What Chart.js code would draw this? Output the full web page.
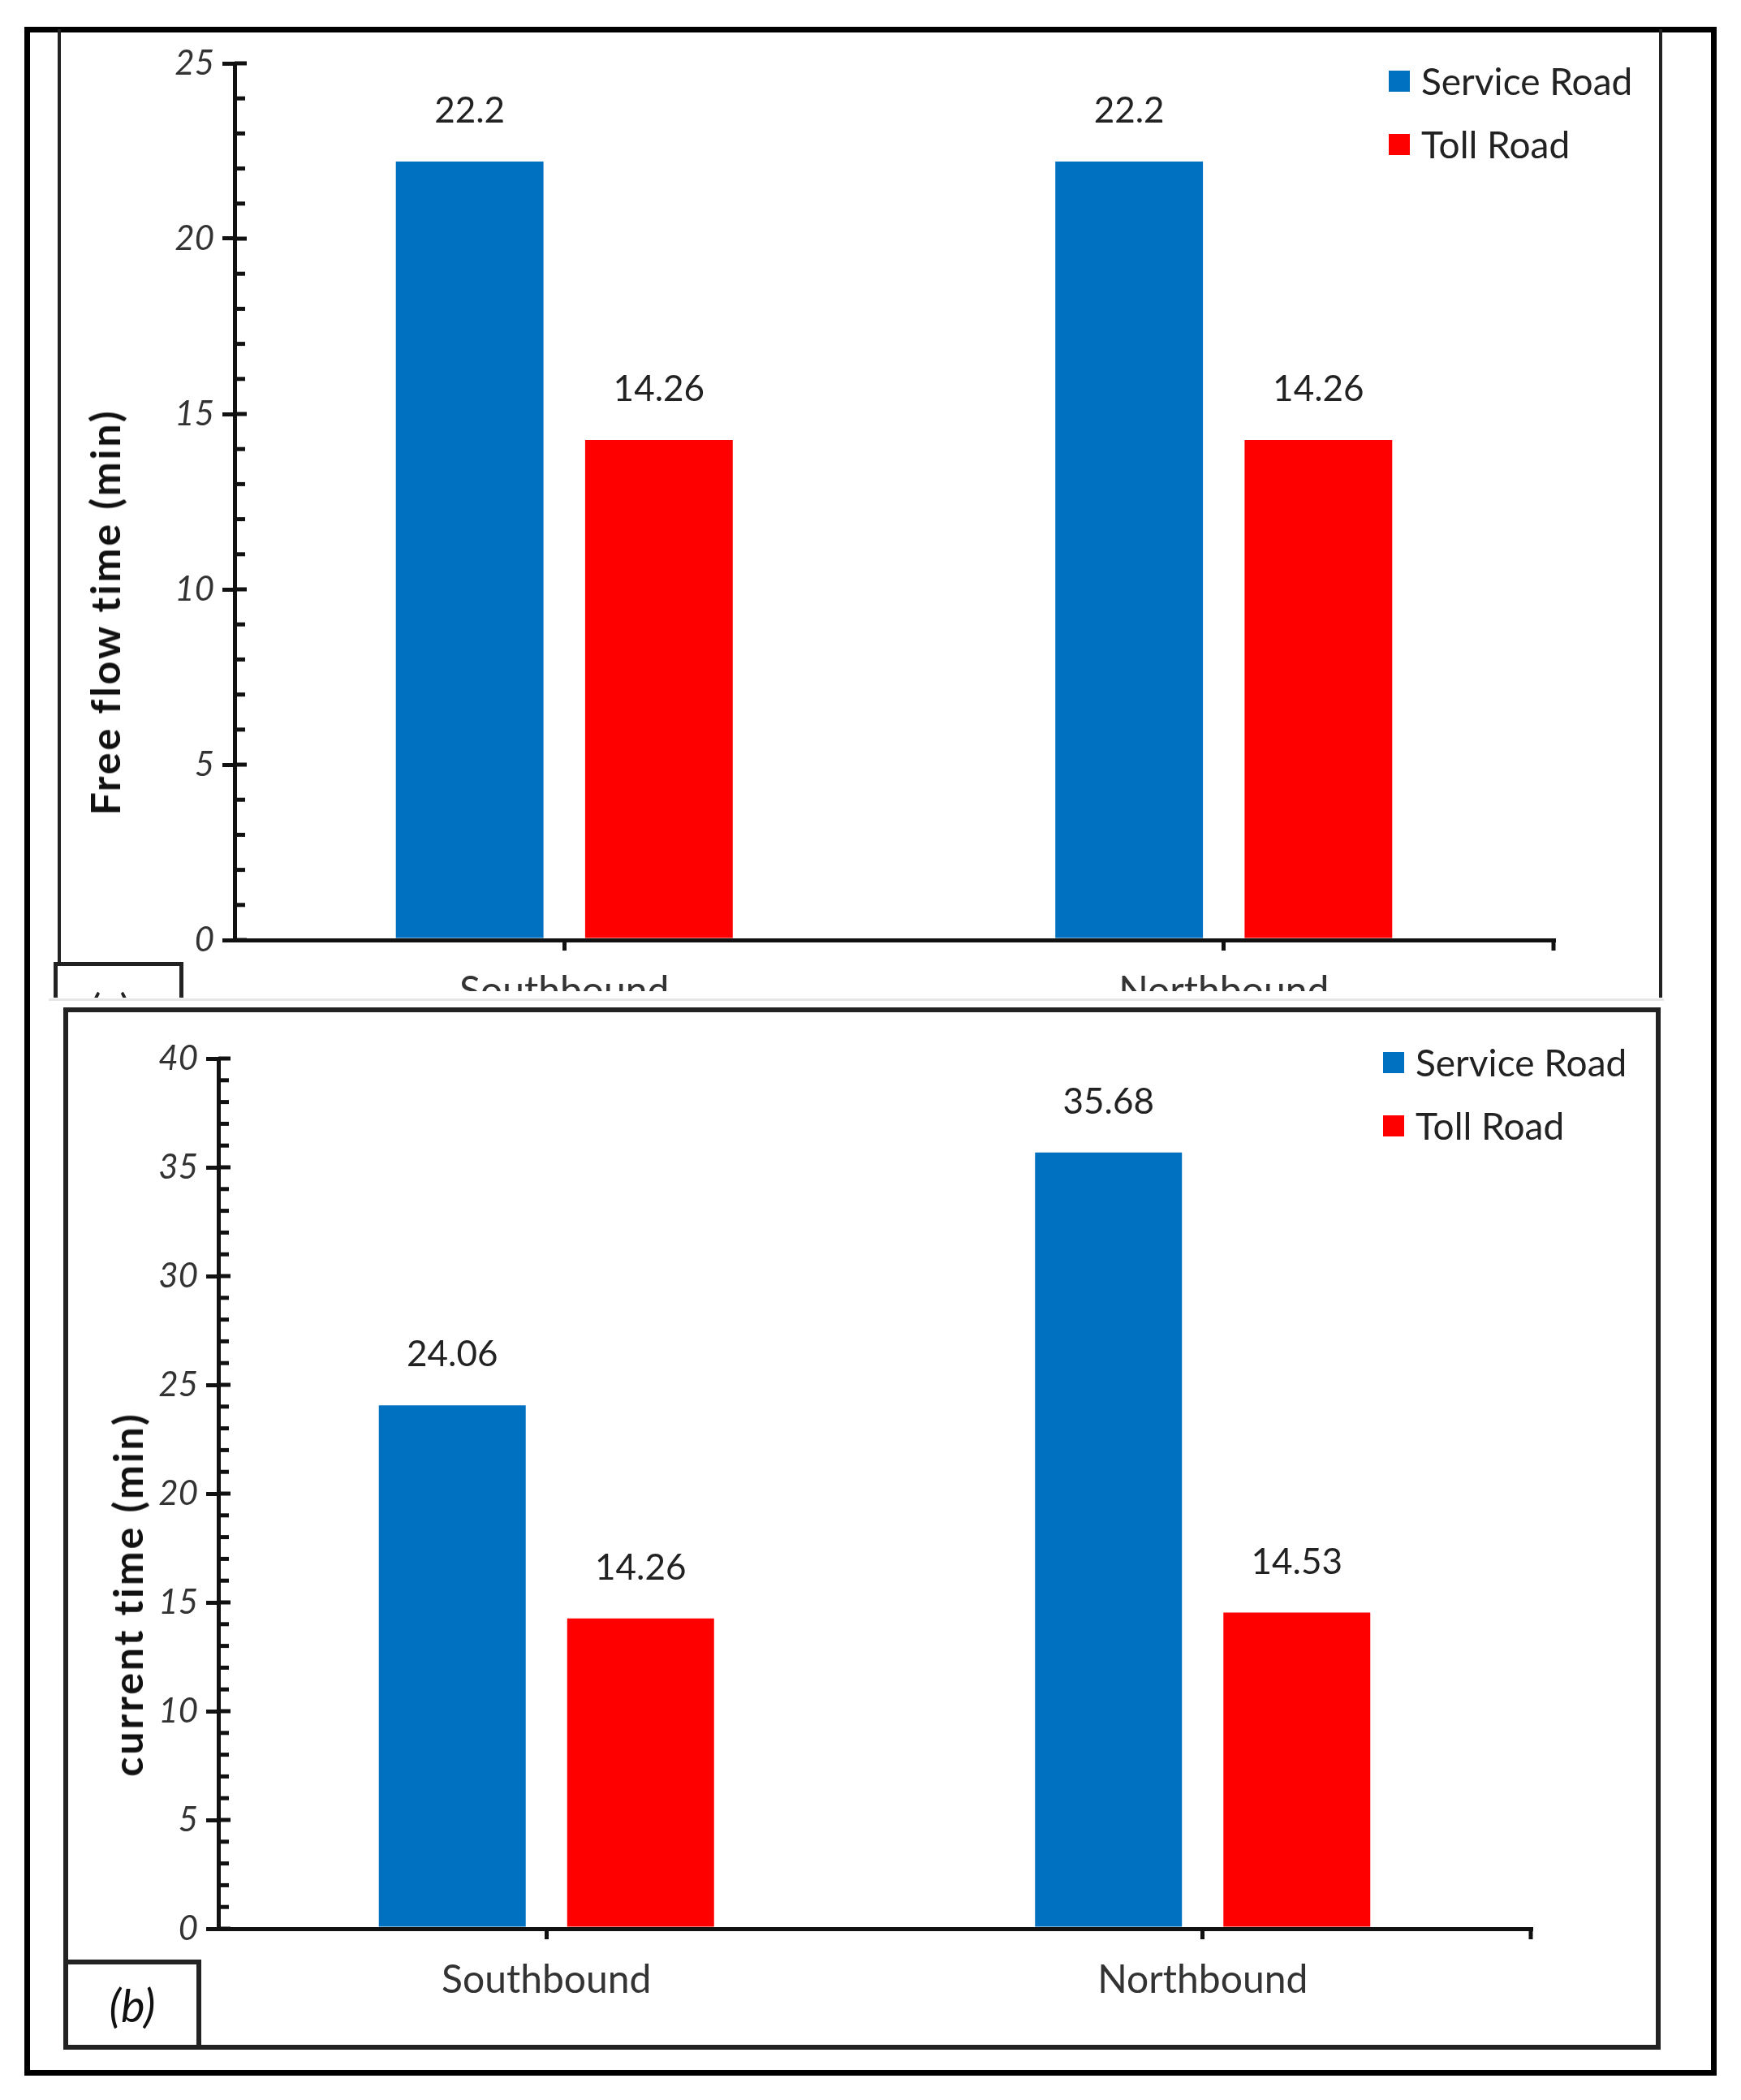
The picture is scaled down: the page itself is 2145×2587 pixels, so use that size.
<!DOCTYPE html>
<html>
<head>
<meta charset="utf-8">
<script src="https://cdn.jsdelivr.net/npm/chart.js@4.4.1/dist/chart.umd.min.js"></script>
<style>
  body { margin: 0; background: #fff; }
  #page { position: relative; width: 2145px; height: 2587px; overflow: hidden; font-family: 'Comic Sans MS', 'Segoe Print', Lato, sans-serif; }
  .abs { position: absolute; }
  .ytitle { position: absolute; transform: translate(-50%, -50%) rotate(-90deg); white-space: nowrap; font-weight: bold; font-size: 50px; color: #111; letter-spacing: 3px; }
  .legend-row { position: absolute; display: flex; align-items: center; font-size: 46px; color: #222; white-space: nowrap; }
  .legend-row span.sw { display: inline-block; width: 26px; height: 26px; margin-right: 14px; }
</style>
</head>
<body>
<div id="page">
  <div class="abs" style="left:30px;top:33px;width:2085px;height:2524px;border:7px solid #000;box-sizing:border-box;"></div>
  <div class="abs" style="left:71px;top:36px;width:4px;height:1193px;background:#222;"></div>
  <div class="abs" style="left:2044px;top:36px;width:4px;height:1193px;background:#222;"></div>

  <canvas id="topChart" class="abs" style="left:80px;top:36px;"></canvas>
  <div class="ytitle" style="left:129px;top:754px;">Free flow time (min)</div>
  <div id="topLegend"></div>

  <div class="abs" style="left:66px;top:1185px;width:160px;height:44px;border:5px solid #222;border-bottom:none;box-sizing:border-box;overflow:hidden;background:#fff;">
    <div style="position:absolute;left:40px;top:22px;font-size:50px;color:#222;">(a)</div>
  </div>
  <div class="abs" style="left:60px;top:1230px;width:1990px;height:3px;background:#e6e6e6;"></div>

  <div class="abs" style="left:78px;top:1241px;width:1968px;height:1284px;border:6px solid #222;box-sizing:border-box;"></div>
  <canvas id="bottomChart" class="abs" style="left:84px;top:1247px;"></canvas>
  <div class="ytitle" style="left:157px;top:1964px;">current time (min)</div>
  <div id="bottomLegend"></div>

  <div class="abs" style="left:78px;top:2414px;width:170px;height:111px;border:6px solid #222;box-sizing:border-box;background:#fff;display:flex;align-items:center;justify-content:center;font-size:56px;font-style:italic;color:#111;">(b)</div>
</div>

<script>
const categories = ["Southbound", "Northbound"];
const seriesNames = ["Service Road", "Toll Road"];
const seriesColors = ["#0070C0", "#FF0000"];

const freeFlowService = [22.2, 22.2];
const freeFlowToll = [14.26, 14.26];
const freeFlowMax = 25;

const currentService = [24.06, 35.68];
const currentToll = [14.26, 14.53];
const currentMax = 40;

const FONT = "'Comic Sans MS', 'Segoe Print', Lato, sans-serif";

// minor ticks on the inside of the y axis, end tick on x axis, value labels
const axisMarks = {
  id: "axisMarks",
  afterDraw(chart) {
    const { ctx, chartArea } = chart;
    const x = chart.scales.x;
    const y = chart.scales.y;
    ctx.save();
    ctx.strokeStyle = "#111";
    ctx.lineWidth = 5;
    for (let v = y.min; v <= y.max; v += 1) {
      const py = y.getPixelForValue(v);
      ctx.beginPath();
      ctx.moveTo(chartArea.left, py);
      ctx.lineTo(chartArea.left + (v % 5 === 0 ? 15 : 13), py);
      ctx.stroke();
    }
    ctx.beginPath();
    ctx.moveTo(x.right, chartArea.bottom);
    ctx.lineTo(x.right, chartArea.bottom + 13);
    ctx.stroke();

    ctx.fillStyle = "#222";
    ctx.font = "44px " + FONT;
    ctx.textAlign = "center";
    ctx.textBaseline = "middle";
    chart.data.datasets.forEach((ds, i) => {
      chart.getDatasetMeta(i).data.forEach((bar, j) => {
        ctx.fillText(String(ds.data[j]), bar.x, bar.y - 62);
      });
    });
    ctx.restore();
  },
};

function renderLegend(el, left, top) {
  seriesNames.forEach((name, i) => {
    const row = document.createElement("div");
    row.className = "legend-row";
    row.style.left = left + "px";
    row.style.top = (top + i * 78) + "px";
    row.innerHTML = `<span class="sw" style="background:${seriesColors[i]}"></span>${name}`;
    el.appendChild(row);
  });
}

function makeChart(id, cfg) {
  const canvas = document.getElementById(id);
  canvas.width = cfg.width;
  canvas.height = cfg.height;
  return new Chart(canvas.getContext("2d"), {
    type: "bar",
    data: {
      labels: categories,
      datasets: cfg.series.map((data, i) => ({
        label: seriesNames[i],
        data,
        backgroundColor: seriesColors[i],
        borderWidth: 0,
        categoryPercentage: 0.574,
        barPercentage: 0.78,
      })),
    },
    options: {
      responsive: false,
      animation: false,
      devicePixelRatio: 1,
      layout: { padding: { top: cfg.padTop, right: cfg.padRight, left: 0, bottom: 0 } },
      plugins: { legend: { display: false }, tooltip: { enabled: false } },
      scales: {
        x: {
          grid: { drawOnChartArea: false, offset: false, tickLength: 13, color: "#111", lineWidth: 5 },
          border: { color: "#111", width: 5 },
          ticks: { font: { family: FONT, size: 48 }, color: "#333", padding: 22 },
          afterFit(s) { s.height = cfg.xHeight; },
        },
        y: {
          min: 0,
          max: cfg.max,
          ticks: { stepSize: 5, font: { family: FONT, size: 42, style: "italic" }, color: "#333", padding: 10 },
          grid: { drawOnChartArea: false, tickLength: 15, color: "#111", lineWidth: 5 },
          border: { color: "#111", width: 5 },
          afterFit(s) { s.width = cfg.yWidth; },
        },
      },
    },
    plugins: [axisMarks],
  });
}

makeChart("topChart", {
  width: 1960, height: 1185, padTop: 42, padRight: 126, xHeight: 63, yWidth: 209,
  max: freeFlowMax, series: [freeFlowService, freeFlowToll],
});
makeChart("bottomChart", {
  width: 1956, height: 1273, padTop: 57, padRight: 154, xHeight: 144, yWidth: 185,
  max: currentMax, series: [currentService, currentToll],
});

renderLegend(document.getElementById("topLegend"), 1711, 72);
renderLegend(document.getElementById("bottomLegend"), 1704, 1281);
</script>
</body>
</html>
